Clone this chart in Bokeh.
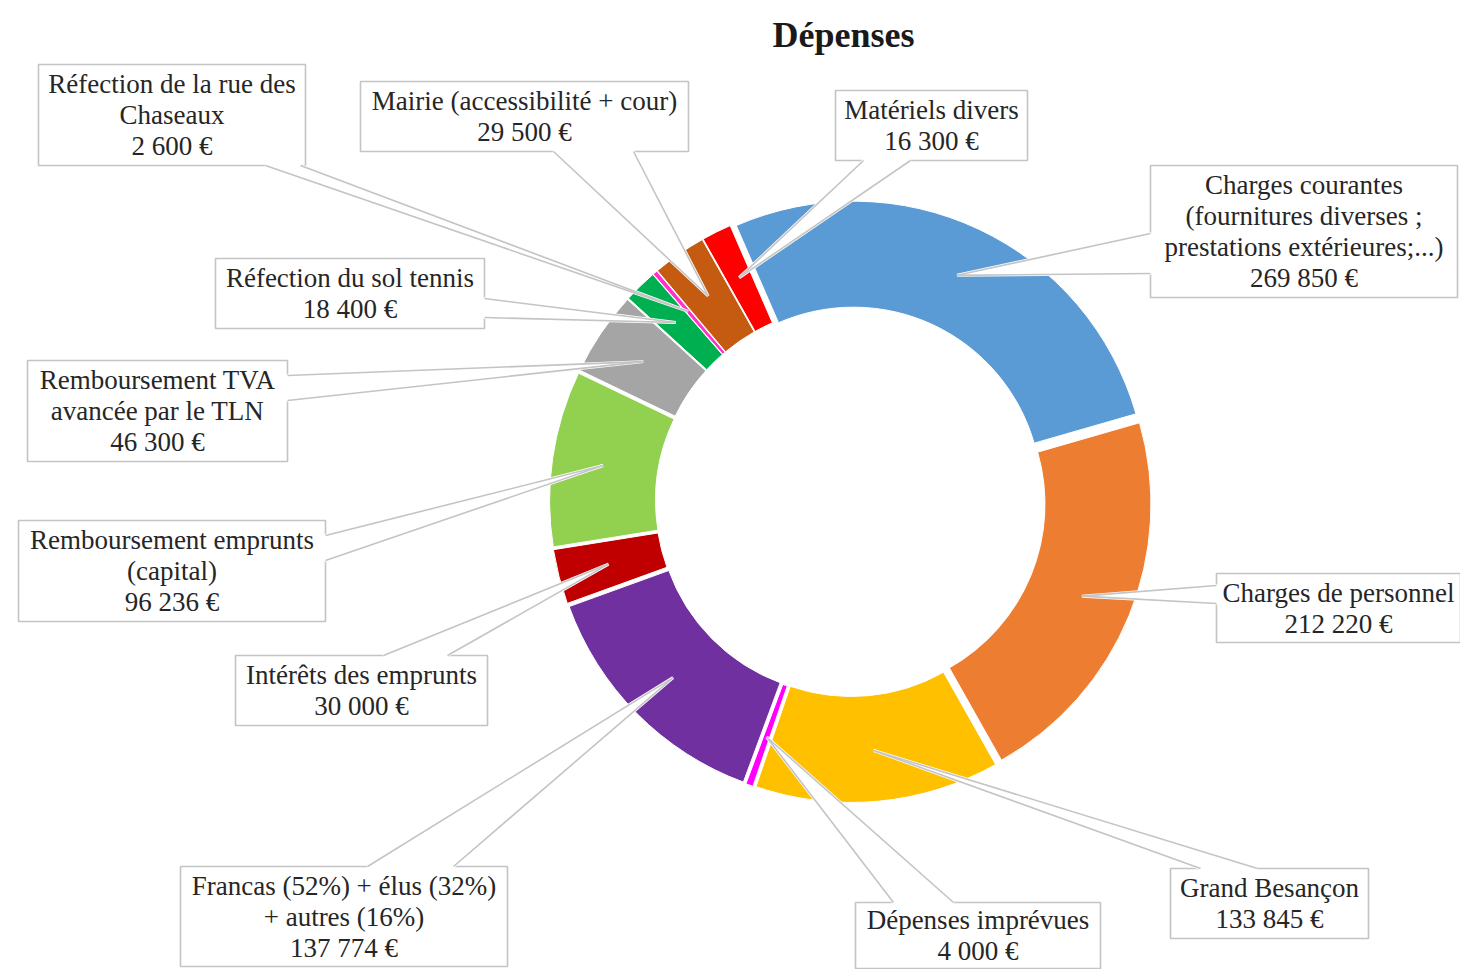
import math
from bokeh.plotting import figure
from bokeh.models import Range1d
from bokeh.core.properties import value
from bokeh.embed import file_html
from bokeh.resources import INLINE

# ---------------- data ----------------
title_text = "Dépenses"
categories = [
    "Charges courantes", "Charges de personnel", "Grand Besançon",
    "Dépenses imprévues", "Francas", "Intérêts des emprunts",
    "Remboursement emprunts", "Remboursement TVA", "Réfection du sol tennis",
    "Réfection de la rue des Chaseaux", "Mairie", "Matériels divers",
]
label_lines = [
    ["Charges courantes", "(fournitures diverses ;", "prestations extérieures;...)"],
    ["Charges de personnel"],
    ["Grand Besançon"],
    ["Dépenses imprévues"],
    ["Francas (52%) + élus (32%)", "+ autres (16%)"],
    ["Intérêts des emprunts"],
    ["Remboursement emprunts", "(capital)"],
    ["Remboursement TVA", "avancée par le TLN"],
    ["Réfection du sol tennis"],
    ["Réfection de la rue des", "Chaseaux"],
    ["Mairie (accessibilité + cour)"],
    ["Matériels divers"],
]
amounts = [269850, 212220, 133845, 4000, 137774, 30000,
           96236, 46300, 18400, 2600, 29500, 16300]
colors = ["#5B9BD5", "#ED7D31", "#FFC000", "#FF00FF", "#7030A0", "#C00000",
          "#92D050", "#A5A5A5", "#00B050", "#FF33CC", "#C55A11", "#FF0000"]

# ---------------- layout (pixel coords of the page image) ----------------
W, H = 1460, 969
IMG_H = 977
CX, CY = 850, 501
R_IN, R_OUT, EXPLODE, R_TIP = 188, 294, 7, 250
START_DEG = -23.5
FONT = "Liberation Serif"
LINE_STEP = 31

box_px = [
    (1150, 165, 1457, 297),
    (1216, 573, 1460, 642),
    (1170, 868, 1368, 938),
    (855, 902, 1100, 968),
    (180, 866, 507, 966),
    (235, 655, 487, 725),
    (18, 520, 325, 621),
    (27, 360, 287, 461),
    (215, 258, 484, 328),
    (38, 64, 305, 165),
    (360, 81, 688, 151),
    (835, 90, 1027, 160),
]
base_px = [
    ((1150, 233), (1150, 273)),
    ((1216, 585), (1216, 603)),
    ((1200, 868), (1257, 868)),
    ((893, 902), (953, 902)),
    ((367, 866), (453, 866)),
    ((383, 655), (447, 655)),
    ((325, 535), (325, 560)),
    ((287, 375), (287, 400)),
    ((484, 298), (484, 317)),
    ((265, 165), (300, 165)),
    ((553, 151), (633, 151)),
    ((863, 160), (910, 160)),
]


def Y(py):
    return IMG_H - py


def fmt(v):
    return f"{v:,}".replace(",", " ") + " €"


total = float(sum(amounts))
cum = START_DEG
starts, ends, mids = [], [], []
for a in amounts:
    span = a / total * 360.0
    starts.append(cum)
    ends.append(cum + span)
    mids.append(cum + span / 2)
    cum += span

p = figure(width=W, height=H, x_range=Range1d(0, W), y_range=Range1d(IMG_H - H, IMG_H),
           output_backend="svg", toolbar_location=None, min_border=0)
p.axis.visible = False
p.grid.visible = False
p.outline_line_color = None
p.background_fill_color = "white"
p.border_fill_color = "white"

# donut slices (exploded)
wx, wy, sa, ea = [], [], [], []
for s, e, m in zip(starts, ends, mids):
    mr = math.radians(m)
    wx.append(CX + EXPLODE * math.sin(mr))
    wy.append(Y(CY - EXPLODE * math.cos(mr)))
    sa.append(math.radians(90 - e))
    ea.append(math.radians(90 - s))
p.annular_wedge(x=wx, y=wy, inner_radius=R_IN, outer_radius=R_OUT,
                start_angle=sa, end_angle=ea, direction="anticlock",
                fill_color=colors, line_color="white", line_width=1)

# callout boxes
p.quad(left=[b[0] for b in box_px], right=[b[2] for b in box_px],
       top=[Y(b[1]) for b in box_px], bottom=[Y(b[3]) for b in box_px],
       fill_color="white", line_color="#C4C4C4", line_width=1.6)

# callout pointers
tri_x, tri_y, side_x, side_y = [], [], [], []
for m, (b1, b2) in zip(mids, base_px):
    mr = math.radians(m)
    tx = CX + R_TIP * math.sin(mr)
    ty = Y(CY - R_TIP * math.cos(mr))
    tri_x.append([b1[0], tx, b2[0]])
    tri_y.append([Y(b1[1]), ty, Y(b2[1])])
    side_x += [[b1[0], tx], [b2[0], tx]]
    side_y += [[Y(b1[1]), ty], [Y(b2[1]), ty]]
p.patches(tri_x, tri_y, fill_color="white", line_color="white", line_width=3)
p.multi_line(side_x, side_y, line_color="#C4C4C4", line_width=1.6)

# label texts
tx_, ty_, tt_ = [], [], []
for lines, a, b in zip(label_lines, amounts, box_px):
    all_lines = lines + [fmt(a)]
    cxb = (b[0] + b[2]) / 2
    cyb = (b[1] + b[3]) / 2
    n = len(all_lines)
    for i, t in enumerate(all_lines):
        tx_.append(cxb)
        ty_.append(Y(cyb + (i - (n - 1) / 2) * LINE_STEP))
        tt_.append(t)
p.text(x=tx_, y=ty_, text=tt_, text_align="center", text_baseline="middle",
       text_font=value(FONT), text_font_size="27px", text_color="#262626")

# title
p.text(x=[843], y=[Y(34)], text=[title_text], text_align="center", text_baseline="middle",
       text_font=value(FONT), text_font_size="36px", text_font_style="bold", text_color="#1a1a1a")

open("out.html", "w").write(file_html(p, INLINE))
